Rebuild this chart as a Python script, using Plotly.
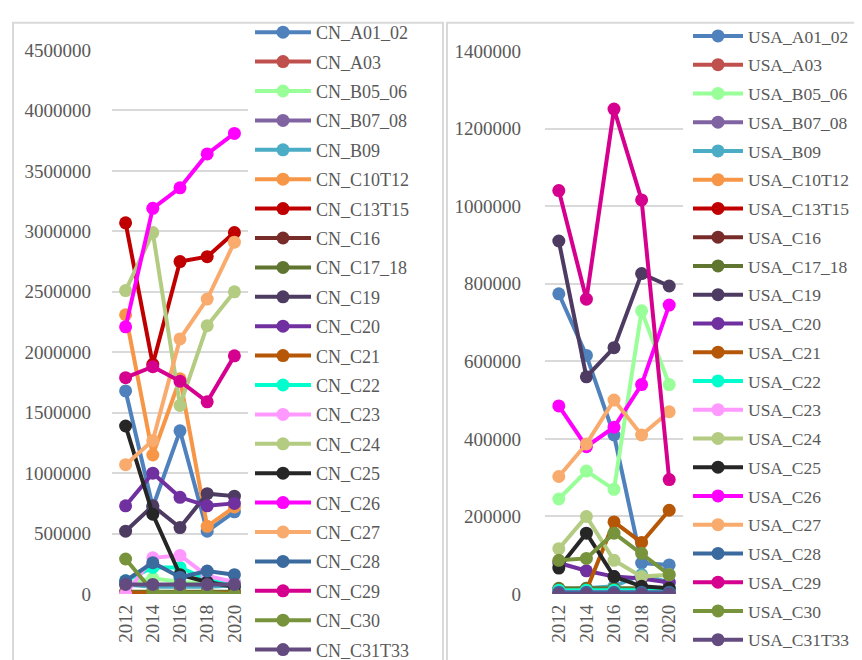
import plotly.graph_objects as go

years = ['2012', '2014', '2016', '2018', '2020']

sectors = ['A01_02', 'A03', 'B05_06', 'B07_08', 'B09', 'C10T12', 'C13T15', 'C16', 'C17_18',
           'C19', 'C20', 'C21', 'C22', 'C23', 'C24', 'C25', 'C26', 'C27', 'C28', 'C29',
           'C30', 'C31T33']

colors = ['#4F81BD', '#C0504D', '#99FF99', '#8064A2', '#4BACC6', '#F79646', '#C00000', '#772C2A',
          '#5F7530', '#4D3B62', '#7030A0', '#B65708', '#00FFCC', '#FF99FF', '#B3CC82', '#262626',
          '#FF00FF', '#F9AB6E', '#3A6A9E', '#D6008F', '#77933C', '#634B80']

# values, in the order of sectors
cn_values = [
    [1680000, 720000, 1350000, 520000, 680000],    # A01_02
    [5000, 5000, 5000, 5000, 5000],                # A03
    [90000, 130000, 100000, 90000, 90000],         # B05_06
    [10000, 10000, 10000, 10000, 10000],           # B07_08
    [80000, 60000, 60000, 60000, 70000],           # B09
    [2310000, 1150000, 1780000, 560000, 720000],   # C10T12
    [3070000, 1900000, 2750000, 2790000, 2990000], # C13T15
    [10000, 10000, 10000, 10000, 10000],           # C16
    [20000, 20000, 20000, 20000, 20000],           # C17_18
    [520000, 730000, 550000, 830000, 810000],      # C19
    [730000, 1000000, 800000, 730000, 750000],     # C20
    [10000, 10000, 10000, 10000, 10000],           # C21
    [110000, 220000, 220000, 120000, 100000],      # C22
    [0, 300000, 320000, 150000, 100000],           # C23
    [2510000, 2990000, 1560000, 2220000, 2500000], # C24
    [1390000, 660000, 160000, 100000, 60000],      # C25
    [2210000, 3190000, 3360000, 3640000, 3810000], # C26
    [1070000, 1270000, 2110000, 2440000, 2910000], # C27
    [110000, 260000, 140000, 190000, 160000],      # C28
    [1790000, 1880000, 1760000, 1590000, 1970000], # C29
    [290000, 20000, 10000, 10000, 0],              # C30
    [80000, 80000, 80000, 80000, 80000],           # C31T33
]

usa_values = [
    [774000, 615000, 410000, 80000, 75000],        # A01_02
    [3000, 3000, 3000, 3000, 3000],                # A03
    [245000, 317000, 270000, 730000, 540000],      # B05_06
    [5000, 5000, 5000, 5000, 5000],                # B07_08
    [10000, 15000, 20000, 50000, 30000],           # B09
    [5000, 5000, 5000, 5000, 5000],                # C10T12
    [5000, 5000, 5000, 5000, 5000],                # C13T15
    [5000, 5000, 5000, 5000, 5000],                # C16
    [15000, 15000, 15000, 15000, 15000],           # C17_18
    [910000, 560000, 635000, 826000, 794000],      # C19
    [80000, 60000, 45000, 40000, 30000],           # C20
    [10000, 10000, 186000, 133000, 216000],        # C21
    [10000, 10000, 10000, 10000, 10000],           # C22
    [5000, 5000, 5000, 5000, 5000],                # C23
    [117000, 200000, 87000, 45000, 50000],         # C24
    [67000, 157000, 45000, 20000, 15000],          # C25
    [485000, 380000, 430000, 540000, 745000],      # C26
    [303000, 387000, 500000, 410000, 470000],      # C27
    [5000, 5000, 5000, 5000, 5000],                # C28
    [1040000, 760000, 1250000, 1016000, 295000],   # C29
    [87000, 92000, 157000, 105000, 50000],         # C30
    [0, 0, 0, 0, 0],                               # C31T33
]

W, H = 862, 660
def px(x) : return x / W
def py(y) : return 1 - y / H

fig = go.Figure()
for i, s in enumerate(sectors) :
    fig.add_trace(go.Scatter(x=years, y=cn_values[i], name='CN_' + s, mode='lines+markers',
                             line=dict(color=colors[i], width=4), marker=dict(size=13, color=colors[i]),
                             xaxis='x', yaxis='y', legend='legend', legendgroup='cn' + s))
for i, s in enumerate(sectors) :
    fig.add_trace(go.Scatter(x=years, y=usa_values[i], name='USA_' + s, mode='lines+markers',
                             line=dict(color=colors[i], width=4), marker=dict(size=13, color=colors[i]),
                             xaxis='x2', yaxis='y2', legend='legend2', legendgroup='us' + s))

def serif(size) : return dict(family='Liberation Serif', size=size, color='#595959')

xax = dict(type='category', range=[-0.5, 4.5], tickangle=-90, showgrid=False, showline=False,
           zeroline=False, ticks='', tickfont=serif(19), ticklabelstandoff=6)
yax = dict(showgrid=True, gridcolor='#D9D9D9', gridwidth=1.5, zeroline=False, tickformat='d',
           tickfont=serif(19), ticks='')
leg = dict(bgcolor='rgba(0,0,0,0)', tracegroupgap=3, xanchor='left', yanchor='top', y=1, maxheight=1000)

fig.update_layout(
    width=W, height=H, margin=dict(l=0, r=0, t=0, b=0),
    paper_bgcolor='white', plot_bgcolor='white', font=serif(18),
    xaxis=dict(domain=[px(104), px(240)], anchor='y', **xax),
    yaxis=dict(domain=[py(595), py(33)], anchor='x', range=[0, 4500000], dtick=500000,
               ticklabelstandoff=20, **yax),
    xaxis2=dict(domain=[px(537), px(675)], anchor='y2', **xax),
    yaxis2=dict(domain=[py(595), py(34)], anchor='x2', range=[0, 1400000], dtick=200000,
                ticklabelstandoff=23, **yax),
    legend=dict(x=px(242), itemwidth=56, font=serif(18), **leg),
    legend2=dict(x=px(680), itemwidth=50, font=serif(17.5), **leg),
    shapes=[
        dict(type='rect', xref='paper', yref='paper', x0=px(5), x1=px(435), y0=py(680), y1=py(5),
             line=dict(color='#D9D9D9', width=2)),
        dict(type='rect', xref='paper', yref='paper', x0=px(439), x1=px(880), y0=py(680), y1=py(5),
             line=dict(color='#D9D9D9', width=2)),
    ],
)

fig.write_html('out.html')
